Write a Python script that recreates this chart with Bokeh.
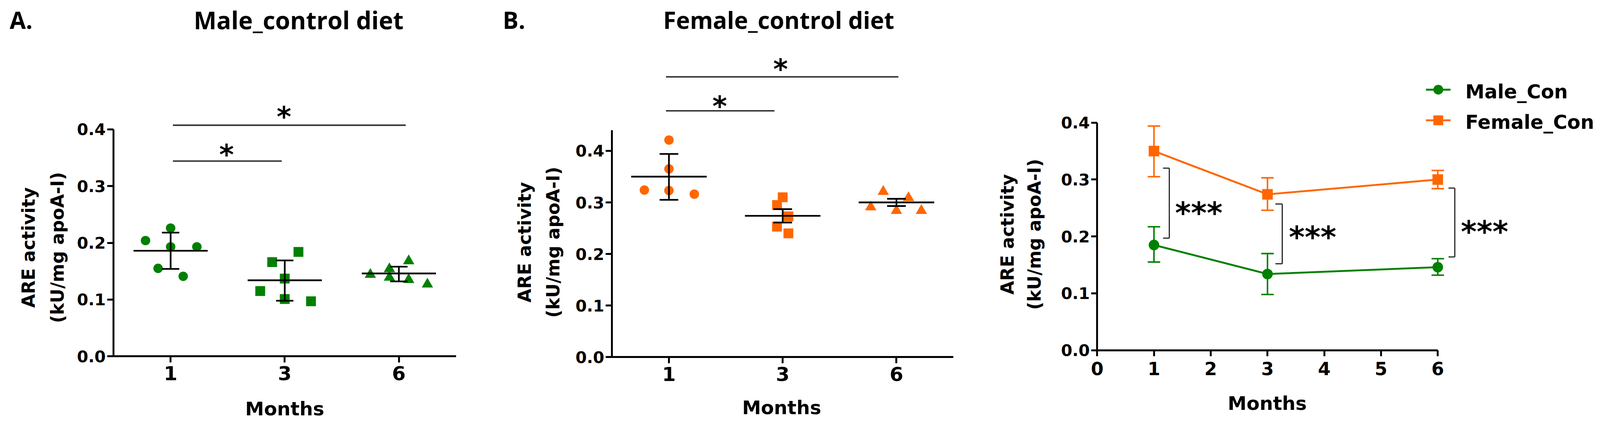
import math
from bokeh.plotting import figure
from bokeh.layouts import row
from bokeh.models import LinearAxis, FixedTicker, PrintfTickFormatter, Range1d
from bokeh.core.properties import value
from bokeh.embed import file_html
from bokeh.resources import INLINE

# ---------------- data ----------------
month_labels = ["1", "3", "6"]
month_num = [1, 3, 6]

# Panel A: Male, control diet (individual animals)
male_m1 = [0.204, 0.226, 0.193, 0.193, 0.155, 0.141]
male_m3 = [0.166, 0.184, 0.137, 0.115, 0.101, 0.097]
male_m6 = [0.144, 0.154, 0.139, 0.168, 0.135, 0.127]
male_mean = [0.186, 0.134, 0.146]
male_err_low = [0.154, 0.098, 0.132]
male_err_high = [0.218, 0.169, 0.158]

# Panel B: Female, control diet
female_m1 = [0.421, 0.365, 0.324, 0.323, 0.316]
female_m3 = [0.310, 0.295, 0.273, 0.253, 0.240]
female_m6 = [0.321, 0.291, 0.284, 0.309, 0.284]
female_mean = [0.350, 0.274, 0.300]
female_err_low = [0.305, 0.261, 0.293]
female_err_high = [0.394, 0.287, 0.307]

# Panel C: means with error bars
c_male_mean = [0.185, 0.134, 0.146]
c_male_low = [0.155, 0.098, 0.132]
c_male_high = [0.217, 0.170, 0.161]
c_female_mean = [0.350, 0.274, 0.300]
c_female_low = [0.305, 0.246, 0.284]
c_female_high = [0.394, 0.303, 0.316]
series_names = ["Male_Con", "Female_Con"]

# horizontal scatter placement of the dots (layout, in category widths)
jit_A = [[-0.22, 0.0, 0.0, 0.23, -0.11, 0.11],
         [-0.11, 0.12, 0.0, -0.215, 0.0, 0.23],
         [-0.25, -0.083, -0.083, 0.086, 0.086, 0.25]]
jit_B = [[0.0, 0.0, -0.216, 0.0, 0.223],
         [0.0, -0.05, 0.05, -0.05, 0.05],
         [-0.116, -0.226, 0.0, 0.106, 0.219]]

# ---------------- layout / styles ----------------
GREEN = "#008000"
ORANGE = "#ff6600"
FONT = "DejaVu Sans"
TFONT = "Open Sans"
F = 0.9674                      # page pixels per reference pixel
LIFT = 0.33                     # baseline correction (em)
W_TOTAL = round(4234 * F)
H = round(1122 * F)
H_REF = H / F
starts_ref = [0, 1290, 2600]
starts = [round(r * F) for r in starts_ref] + [W_TOTAL]
widths = [starts[i + 1] - starts[i] for i in range(3)]


def fs(v):
    return "%.1fpx" % (v * F)


def xrange_for(i, zero_ref, ppu):
    return Range1d((starts[i] / F - zero_ref) / ppu, (starts[i + 1] / F - zero_ref) / ppu)


def yrange_for(base_ref, ppu):
    return Range1d((base_ref - H_REF) / ppu, base_ref / ppu)


def base_fig(w, xr, yr):
    p = figure(width=w, height=H, x_range=xr, y_range=yr,
               output_backend="svg", toolbar_location=None,
               x_axis_location=None, y_axis_location=None,
               min_border=0, min_border_left=0, min_border_right=0,
               min_border_top=0, min_border_bottom=0)
    p.xgrid.visible = False
    p.ygrid.visible = False
    p.outline_line_color = None
    p.background_fill_color = "white"
    p.border_fill_color = "white"
    return p


def style_axis(ax, size, standoff, tick=17):
    ax.axis_line_width = 5 * F
    ax.axis_line_color = "black"
    ax.major_tick_line_width = 5 * F
    ax.major_tick_line_color = "black"
    ax.major_tick_out = round(tick * F)
    ax.major_tick_in = 0
    ax.minor_tick_line_color = None
    ax.major_label_text_font = FONT
    ax.major_label_text_font_style = "bold"
    ax.major_label_text_font_size = fs(size)
    ax.major_label_text_color = "black"
    ax.major_label_standoff = round(standoff * F)


def txt(p, x, y, t, size, font=FONT, align="center", rotated=False, color="black"):
    lift = LIFT * size * F
    p.text(x=[x], y=[y], text=[t], text_font=value(font), text_font_style="bold",
           text_font_size=fs(size), text_align=align, text_baseline="alphabetic",
           angle=(math.pi / 2 if rotated else 0.0),
           x_offset=(-lift if rotated else 0.0), y_offset=(0.0 if rotated else -lift),
           text_color=color)


def dot_panel(i, zero_ref, ppu_x, base_ref, ppu_y, ytop, groups, jit, color, mean, lo, hi,
              half_mean, half_cap, letter, title, tsize, lx, tx, tv, ylx, yv, mx, mv, sig):
    p = base_fig(widths[i], xrange_for(i, zero_ref, ppu_x), yrange_for(base_ref, ppu_y))
    yax = LinearAxis(fixed_location=-0.5, bounds=(0, ytop),
                     ticker=FixedTicker(ticks=[0.0, 0.1, 0.2, 0.3, 0.4]),
                     formatter=PrintfTickFormatter(format="%.1f"))
    style_axis(yax, 43, 4)
    p.add_layout(yax, "left")
    xax = LinearAxis(fixed_location=0, bounds=(-0.5, 2.5),
                     ticker=FixedTicker(ticks=[0, 1, 2]),
                     major_label_overrides={k: m for k, m in enumerate(month_labels)})
    style_axis(xax, 52, 9)
    p.add_layout(xax, "below")

    markers = ["circle", "square", "triangle"]
    msize = [25, 26, 30]
    for g, vals in enumerate(groups):
        xs = [g + j for j in jit[g]]
        p.scatter(xs, vals, marker=markers[g], size=msize[g] * F, fill_color=color, line_color=None)

    idx = list(range(3))
    lw = 4.5 * F
    p.segment(x0=[k - half_mean for k in idx], x1=[k + half_mean for k in idx], y0=mean, y1=mean,
              line_width=lw, line_color="black")
    p.segment(x0=idx, x1=idx, y0=lo, y1=hi, line_width=lw, line_color="black")
    p.segment(x0=[k - half_cap for k in idx], x1=[k + half_cap for k in idx], y0=lo, y1=lo,
              line_width=lw, line_color="black")
    p.segment(x0=[k - half_cap for k in idx], x1=[k + half_cap for k in idx], y0=hi, y1=hi,
              line_width=lw, line_color="black")

    # significance bars
    for (x0, x1, yl, xs, ys) in sig:
        p.segment(x0=[x0], x1=[x1], y0=[yl], y1=[yl], line_width=4 * F, line_color="#333333")
        txt(p, xs, ys, "*", 74)

    txt(p, lx, tv, letter, 62, font=TFONT, align="left")
    txt(p, tx, tv, title, tsize, font=TFONT)
    txt(p, ylx[0], yv, "ARE activity", 47, rotated=True)
    txt(p, ylx[1], yv, "(kU/mg apoA-I)", 47, rotated=True)
    txt(p, mx, mv, "Months", 50)
    return p


# Panel A
pA = dot_panel(0, 451, 302, 943, 1502.5, 0.4,
               [male_m1, male_m3, male_m6], jit_A, GREEN,
               male_mean, male_err_low, male_err_high, 0.325, 0.076,
               "A.", "Male_control diet", 64, -1.41, 1.122, 0.579,
               (-1.192, -0.940), 0.1917, 1.0, -0.1032,
               [(0.02, 2.06, 0.4073, 0.993, 0.406),
                (0.02, 0.974, 0.3441, 0.49, 0.3388)])

# Panel B
pB = dot_panel(1, 1769.7, 301, 945, 1365, 0.44,
               [female_m1, female_m3, female_m6], jit_B, ORANGE,
               female_mean, female_err_low, female_err_high, 0.332, 0.082,
               "B.", "Female_control diet", 62, -1.461, 0.965, 0.6388,
               (-1.215, -0.966), 0.2227, 0.991, -0.1099,
               [(-0.026, 2.017, 0.5436, 0.981, 0.540),
                (-0.026, 0.928, 0.4777, 0.446, 0.4681)])

# Panel C
pC = base_fig(widths[2], xrange_for(2, 2903, 150.2), yrange_for(927, 1507))
yaxC = LinearAxis(fixed_location=0, bounds=(0, 0.4),
                  ticker=FixedTicker(ticks=[0.0, 0.1, 0.2, 0.3, 0.4]),
                  formatter=PrintfTickFormatter(format="%.1f"))
style_axis(yaxC, 43, 4, tick=16)
pC.add_layout(yaxC, "left")
xaxC = LinearAxis(fixed_location=0, bounds=(0, 6), ticker=FixedTicker(ticks=[0, 1, 2, 3, 4, 5, 6]))
style_axis(xaxC, 48, 16, tick=16)
pC.add_layout(xaxC, "below")

cap = 0.11
for mean, lo, hi, col, mk in [(c_male_mean, c_male_low, c_male_high, GREEN, "circle"),
                              (c_female_mean, c_female_low, c_female_high, ORANGE, "square")]:
    pC.line(month_num, mean, line_width=5 * F, line_color=col)
    pC.segment(x0=month_num, x1=month_num, y0=lo, y1=hi, line_width=4 * F, line_color=col)
    pC.segment(x0=[m - cap for m in month_num], x1=[m + cap for m in month_num], y0=lo, y1=lo,
               line_width=4 * F, line_color=col)
    pC.segment(x0=[m - cap for m in month_num], x1=[m + cap for m in month_num], y0=hi, y1=hi,
               line_width=4 * F, line_color=col)
    pC.scatter(month_num, mean, marker=mk, size=28 * F, fill_color=col, line_color=None)

# significance brackets between sexes
brackets = [(1.16, 1.27, 0.197, 0.320, 1.79, 0.2243),
            (3.14, 3.26, 0.152, 0.257, 3.795, 0.1818),
            (6.19, 6.30, 0.164, 0.285, 6.824, 0.1911)]
for (xs, xv, yb, yt, sx, sy) in brackets:
    pC.segment(x0=[xv, xs, xs], x1=[xv, xv, xv], y0=[yb, yt, yb], y1=[yt, yt, yb],
               line_width=3 * F, line_color="#222222")
    txt(pC, sx, sy, "***", 80)

# legend
for name, col, mk, yv, tv in [(series_names[0], GREEN, "circle", 0.4579, 0.4433),
                              (series_names[1], ORANGE, "square", 0.4041, 0.3895)]:
    pC.segment(x0=[5.792], x1=[6.225], y0=[yv], y1=[yv], line_width=5 * F, line_color=col)
    pC.scatter([6.009], [yv], marker=mk, size=26 * F, fill_color=col, line_color=None)
    txt(pC, 6.485, tv, name, 51, align="left")

txt(pC, -1.478, 0.2037, "ARE activity", 47, rotated=True)
txt(pC, -0.999, 0.2037, "(kU/mg apoA-I)", 47, rotated=True)
txt(pC, 2.996, -0.1042, "Months", 50)

layout = row(pA, pB, pC, spacing=0)
open("out.html", "w").write(file_html(layout, INLINE))
